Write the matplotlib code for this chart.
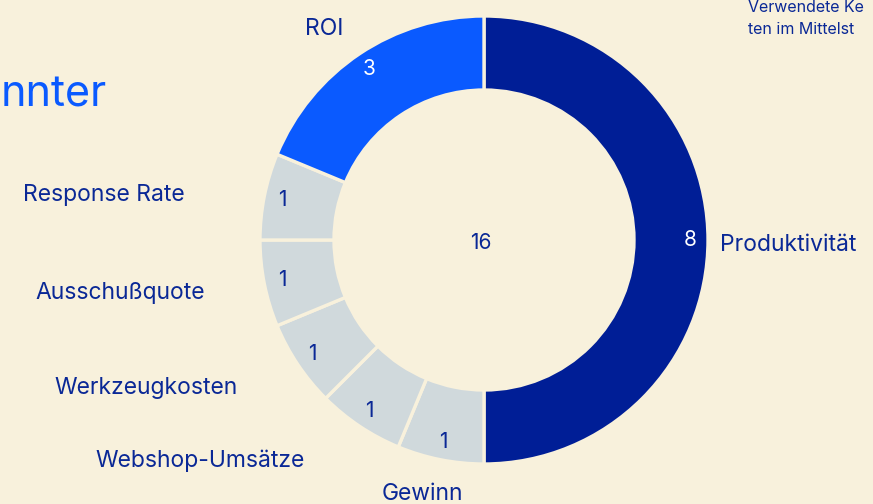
import matplotlib
matplotlib.use("Agg")
import matplotlib.pyplot as plt

BG = "#F8F1DC"
NAVY = "#001E96"
BLUE = "#0A5AFF"
GREY = "#D0D9DC"
TEXT = "#0A2896"

categories = ["Produktivität", "Gewinn", "Webshop-Umsätze", "Werkzeugkosten",
              "Ausschußquote", "Response Rate", "ROI"]
counts = [8, 1, 1, 1, 1, 1, 3]
colors = [NAVY, GREY, GREY, GREY, GREY, GREY, BLUE]
value_colors = ["white", TEXT, TEXT, TEXT, TEXT, TEXT, "white"]

# label anchors in pixel space (x, y from top), alignment
label_pos = [(720, 245, "left"), (422, 494, "center"), (305, 461, "right"),
             (238, 388, "right"), (205, 293, "right"), (185, 195, "right"),
             (324, 29, "center")]

W, H = 873, 504
plt.rcParams["font.family"] = ["Inter", "DejaVu Sans"]

fig = plt.figure(figsize=(W / 100, H / 100), dpi=100)
fig.patch.set_facecolor(BG)
ax = fig.add_axes([0, 0, 1, 1])
ax.set_facecolor(BG)

cx, cy, r = 484, H - 240, 224
wedges, _, autotexts = ax.pie(
    counts, colors=colors, startangle=90, counterclock=False,
    center=(cx, cy), radius=r, autopct=lambda p: f"{p * sum(counts) / 100:.0f}",
    pctdistance=0.92, wedgeprops=dict(width=74, edgecolor=BG, linewidth=2.4),
    textprops=dict(fontsize=15), frame=True)
for t, c in zip(autotexts, value_colors):
    t.set_color(c)

ax.text(cx - 3, H - 243, str(sum(counts)), ha="center", va="center",
        fontsize=15, color=TEXT)

for name, (x, y, ha) in zip(categories, label_pos):
    ax.text(x, H - y, name, ha=ha, va="center", fontsize=16.5, color=TEXT)

# title, cut off at the left edge as in the source
ax.text(1, H - 95, "nnter", ha="left", va="center", fontsize=31, color=BLUE)
ax.text(748, H - 7, "Verwendete Ke", ha="left", va="center",
        fontsize=11.5, color=TEXT)
ax.text(748, H - 29, "ten im Mittelst", ha="left", va="center",
        fontsize=11.5, color=TEXT)

ax.set_xlim(0, W)
ax.set_ylim(0, H)
ax.set_aspect("equal")
ax.axis("off")

fig.savefig("out.png", dpi=100, facecolor=BG)
